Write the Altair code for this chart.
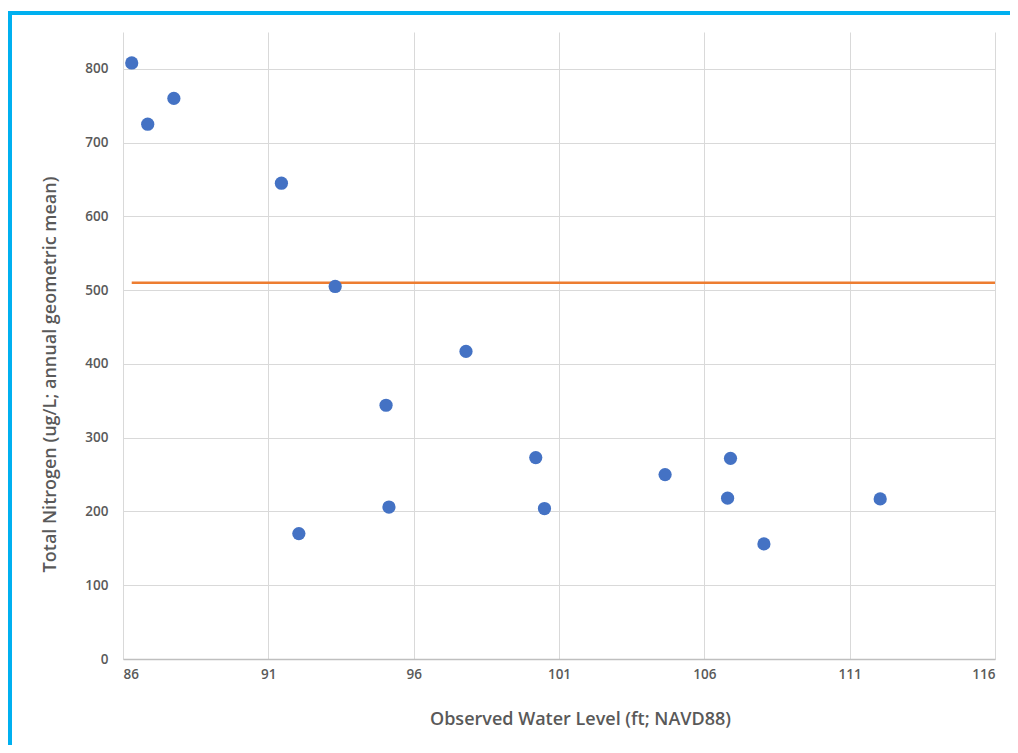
import altair as alt
import pandas as pd

# Observed water level (ft; NAVD88) and total nitrogen (ug/L; annual geometric mean)
water_level = [86.3, 86.85, 87.75, 91.45, 92.05, 93.3, 95.05, 95.15, 97.8,
               100.2, 100.5, 104.65, 106.9, 106.8, 108.05, 112.05]
nitrogen = [808, 725, 760, 645, 170, 505, 344, 206, 417,
            273, 204, 250, 272, 218, 156, 217]

# Threshold line (orange)
threshold_x = [86.3, 116]
threshold_y = [510, 510]

x_ticks = [86, 91, 96, 101, 106, 111, 116]
y_ticks = [0, 100, 200, 300, 400, 500, 600, 700, 800]

W, H = 872, 627
PAD = {"left": 115, "top": 24, "right": 15, "bottom": 86}

pts = pd.DataFrame({"x": water_level, "y": nitrogen})
thr = pd.DataFrame({"x": threshold_x, "y": threshold_y})

xs = alt.Scale(domain=[86, 116], nice=False, zero=False)
ys = alt.Scale(domain=[0, 850], nice=False)

label_font = "Open Sans"
grey = "#595959"

x_axis = alt.Axis(
    values=x_ticks, title="Observed Water Level (ft; NAVD88)",
    grid=True, gridColor="#D9D9D9", gridWidth=1,
    domain=True, domainColor="#BFBFBF", domainWidth=1.5,
    ticks=False, labelPadding=8, labelFontSize=13.5, labelFontWeight=600,
    labelColor=grey, labelFont=label_font,
    titleFont=label_font, titleFontSize=18, titleFontWeight=600, titleColor=grey,
    titleX=457, titleY=60, titleBaseline="middle", titleAnchor="middle", titleAlign="center",
)
y_axis = alt.Axis(
    values=y_ticks, title="Total Nitrogen (ug/L; annual geometric mean)",
    grid=True, gridColor="#D9D9D9", gridWidth=1,
    domain=False, ticks=False, labelPadding=15, labelFontSize=13.5, labelFontWeight=600,
    labelColor=grey, labelFont=label_font,
    titleFont=label_font, titleFontSize=18, titleFontWeight=600, titleColor=grey,
    titleX=-73, titleY=342, titleBaseline="middle", titleAngle=-90, titleAlign="center",
)

points = alt.Chart(pts).mark_circle(size=175, color="#4472C4", opacity=1).encode(
    x=alt.X("x:Q", scale=xs, axis=x_axis),
    y=alt.Y("y:Q", scale=ys, axis=y_axis),
)

line = alt.Chart(thr).mark_line(color="#ED7D31", strokeWidth=2.5).encode(
    x=alt.X("x:Q", scale=xs),
    y=alt.Y("y:Q", scale=ys),
)

# decorative cyan frame (left and top)
frame_left = alt.Chart(pd.DataFrame({"a": [0]})).mark_rule(
    color="#00B0F0", strokeWidth=4).encode(
    x=alt.value(-113), y=alt.value(-21), y2=alt.value(H + PAD["bottom"]))
frame_top = alt.Chart(pd.DataFrame({"a": [0]})).mark_rule(
    color="#00B0F0", strokeWidth=4).encode(
    x=alt.value(-115), x2=alt.value(W + PAD["right"]), y=alt.value(-19))

chart = alt.layer(line, points, frame_left, frame_top).properties(
    width=W, height=H,
    autosize=alt.AutoSizeParams(type="none"),
    padding=PAD,
    background="white",
).configure_view(stroke=None)

chart.save("out.html", embed_options={"renderer": "svg", "actions": False})
